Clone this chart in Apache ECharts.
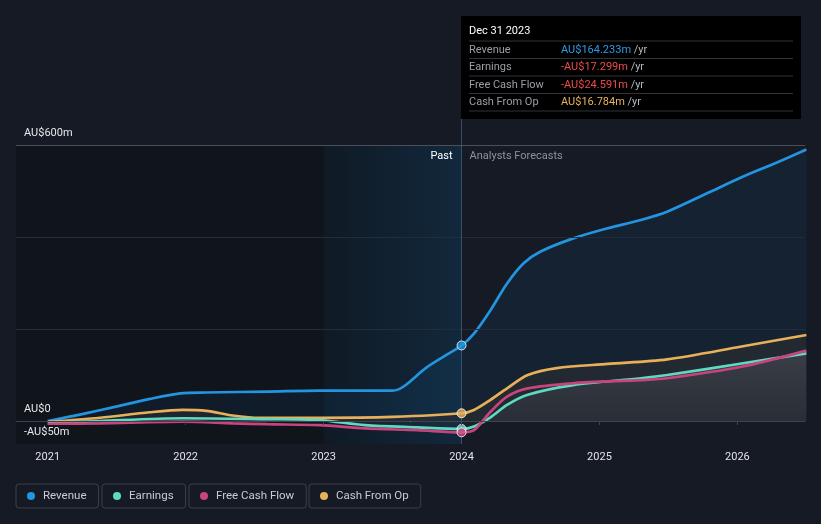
<!DOCTYPE html>
<html>
<head>
<meta charset="utf-8">
<script src="https://cdn.jsdelivr.net/npm/echarts@6/dist/echarts.min.js"></script>
<style>
html,body{margin:0;padding:0;background:#151a24;}
#chart{width:821px;height:524px;}
</style>
</head>
<body>
<div id="chart"></div>
<script>
// ---- data (AU$ millions, x = decimal year) ----
const yearTicks = [2021, 2022, 2023, 2024, 2025, 2026];
const yLabelValues = [-50, 0, 600];
const gridValues = [200, 400, 600];
const seriesNames = ['Revenue', 'Earnings', 'Free Cash Flow', 'Cash From Op'];
const revenue = [[2021.0,0],[2021.25,15],[2021.52,33],[2021.74,48],[2021.96,60],[2022.15,62],[2022.6,64],[2022.97,66],[2023.5,66],[2023.58,75],[2023.74,115],[2023.87,140],[2024.0,164.233],[2024.09,190],[2024.21,241],[2024.33,299],[2024.45,343],[2024.57,368],[2024.81,397],[2025.06,419],[2025.3,437],[2025.49,455],[2025.78,495],[2026.03,530],[2026.27,560],[2026.5,590]];
const earnings = [[2021.0,-5],[2021.38,0],[2021.98,6],[2022.59,4],[2022.97,2],[2023.3,-9],[2023.68,-14],[2024.0,-17.299],[2024.09,-12],[2024.21,8],[2024.33,35],[2024.48,57],[2024.81,78],[2025.3,93],[2025.49,100],[2026.03,125],[2026.5,147]];
const fcf = [[2021.0,-6],[2021.38,-5],[2021.98,-1.5],[2022.34,-5],[2022.59,-7],[2022.97,-9],[2023.3,-16],[2023.68,-20],[2024.0,-24.591],[2024.09,-20],[2024.21,20],[2024.33,53],[2024.48,71],[2024.81,82],[2025.3,89],[2025.49,93],[2026.03,118],[2026.5,153]];
const cfo = [[2021.0,-2],[2021.38,7],[2021.74,19],[2021.98,24],[2022.15,22],[2022.34,12],[2022.54,7],[2022.97,7],[2023.5,9],[2024.0,16.784],[2024.09,24],[2024.21,46],[2024.33,71],[2024.48,100],[2024.69,115],[2025.06,124],[2025.49,134],[2026.03,162],[2026.5,187]];
const markerYear = 2024.0;
const tooltipTitle = 'Dec 31 2023';
const tooltipValues = ['AU$164.233m', '-AU$17.299m', '-AU$24.591m', 'AU$16.784m'];

const colors = ['#2394df', '#5fd9c0', '#c8447e', '#e8b05a'];
const valueColors = ['#2f9ae6', '#ec4b4b', '#ec4b4b', '#e8b25c'];
const X_MIN = 2020.77, X_MAX = 2026.49;

const chart = echarts.init(document.getElementById('chart'));
const font = 'Roboto, "Noto Sans", sans-serif';

function at(arr, x) { const p = arr.find(d => d[0] === x); return p ? p[1] : null; }
const SM = 0.3;
const LW = 2.7;

const option = {
  backgroundColor: '#151a24',
  animation: false,
  textStyle: { fontFamily: font },
  grid: { left: 16, right: 16, top: 145, bottom: 80, containLabel: false, outerBoundsMode: 'none' },
  xAxis: {
    type: 'value', min: X_MIN, max: X_MAX, z: 20,
    splitLine: { show: false },
    axisLine: { show: true, lineStyle: { color: '#3e444e', width: 1 } },
    axisTick: { show: true, customValues: yearTicks, length: 4, lineStyle: { color: '#3e444e' } },
    axisLabel: { customValues: yearTicks, color: '#e2e4e8', fontSize: 11, margin: 8, formatter: v => String(Math.round(v)) }
  },
  yAxis: {
    type: 'value', min: -50, max: 600, z: 20,
    splitLine: { show: false }, axisLine: { show: false }, axisTick: { show: false },
    axisLabel: {
      customValues: yLabelValues, inside: true, margin: 8, color: '#e6e8ec', fontSize: 11,
      verticalAlign: 'bottom', padding: [0, 0, 6, 0], showMinLabel: true, showMaxLabel: true, hideOverlap: false,
      formatter: v => v < 0 ? '-AU$' + (-v) + 'm' : (v === 0 ? 'AU$0' : 'AU$' + v + 'm')
    }
  },
  legend: seriesNames.map((n, i) => ({
    data: [n], left: [16, 102, 189, 309][i], top: 484, icon: 'circle', itemWidth: 8, itemHeight: 8,
    padding: [6, 12, 6, 11], borderColor: '#3a3f49', borderWidth: 1, borderRadius: 3,
    selectedMode: false, textStyle: { color: '#c9ccd1', fontSize: 11.5, padding: [0, 0, 0, 3] }
  })),
  series: [
    { type: 'line', name: '_shade', z: 1, data: [], silent: true,
      markArea: { silent: true, data: [
        [{ xAxis: X_MIN, itemStyle: { color: '#10141b' } }, { xAxis: 2023 }],
        [{ xAxis: 2023, itemStyle: { color: new echarts.graphic.LinearGradient(0, 0, 1, 0, [
          { offset: 0, color: '#0f1a25' }, { offset: 1, color: '#12283c' }]) } }, { xAxis: markerYear }]
      ] } },
    { type: 'line', name: '_grid', z: 2, data: [], silent: true,
      markLine: { silent: true, symbol: 'none', label: { show: false },
        data: gridValues.map(v => ({ yAxis: v, lineStyle: { color: v === 600 ? '#4a505a' : '#252c37', width: 1, type: 'solid' } }))
          .concat([{ xAxis: markerYear, lineStyle: { color: 'rgba(80,120,160,0.55)', width: 1, type: 'solid' } }]) } },
    { type: 'line', name: 'Revenue', z: 3, data: revenue, smooth: SM, symbol: 'none',
      lineStyle: { color: colors[0], width: LW }, itemStyle: { color: colors[0] },
      areaStyle: { color: 'rgba(35,148,223,0.10)' } },
    { type: 'line', name: 'Cash From Op', z: 4, data: cfo, smooth: SM, symbol: 'none',
      lineStyle: { color: colors[3], width: LW }, itemStyle: { color: colors[3] },
      areaStyle: { color: 'rgba(48,48,50,0.75)' } },
    { type: 'line', name: 'Earnings', z: 5, data: earnings, smooth: SM, symbol: 'none',
      lineStyle: { color: colors[1], width: LW }, itemStyle: { color: colors[1] },
      areaStyle: { color: new echarts.graphic.LinearGradient(0, 0, 0, 1, [
        { offset: 0, color: 'rgba(130,130,142,0.32)' }, { offset: 1, color: 'rgba(130,130,142,0.06)' }]) } },
    { type: 'line', name: 'Free Cash Flow', z: 6, data: fcf, smooth: SM, symbol: 'none',
      lineStyle: { color: colors[2], width: LW }, itemStyle: { color: colors[2] } },
    { type: 'line', name: '_zero', z: 7, data: [], silent: true,
      markLine: { silent: true, symbol: 'none', label: { show: false },
        data: [{ yAxis: 0, lineStyle: { color: '#ffffff', width: 1.2, type: 'solid' } }] } },
    { type: 'scatter', name: '_dots', z: 10, silent: true, symbolSize: 9,
      data: [revenue, cfo, earnings, fcf].map((arr, i) => ({
        value: [markerYear, at(arr, markerYear)],
        itemStyle: { color: [colors[0], colors[3], colors[1], colors[2]][i], borderColor: '#ffffff', borderWidth: 1 }
      })) }
  ]
};
chart.setOption(option);

const xm = chart.convertToPixel({ xAxisIndex: 0 }, markerYear);
const topY = chart.convertToPixel({ yAxisIndex: 0 }, 600);
const boxX = 461, boxY = 16, boxW = 340, boxH = 103;
const g = [
  { type: 'line', z: 50, shape: { x1: xm, y1: boxY + boxH, x2: xm, y2: topY }, style: { stroke: 'rgba(80,120,160,0.55)', lineWidth: 1 } },
  { type: 'text', z: 50, x: xm - 9, y: topY + 11, style: { text: 'Past', fill: '#ffffff', font: '11px ' + font, align: 'right', verticalAlign: 'middle' } },
  { type: 'text', z: 50, x: xm + 8, y: topY + 11, style: { text: 'Analysts Forecasts', fill: '#8d929b', font: '11px ' + font, align: 'left', verticalAlign: 'middle' } },
  { type: 'rect', z: 60, shape: { x: boxX, y: boxY, width: boxW, height: boxH }, style: { fill: '#000000' } },
  { type: 'text', z: 61, x: boxX + 8, y: boxY + 15, style: { text: tooltipTitle, fill: '#ffffff', font: '11px ' + font, verticalAlign: 'middle' } }
];
const sepY = [41, 58.5, 76, 93.5, 111];
sepY.forEach(y => g.push({ type: 'line', z: 61, shape: { x1: boxX + 8, y1: y, x2: boxX + 332, y2: y }, style: { stroke: '#303238', lineWidth: 1 } }));
seriesNames.forEach((n, i) => {
  const cy = (sepY[i] + sepY[i + 1]) / 2;
  g.push({ type: 'text', z: 61, x: boxX + 8, y: cy, style: { text: n, fill: '#9a9ea6', font: '11px ' + font, verticalAlign: 'middle' } });
  g.push({ type: 'text', z: 61, x: boxX + 100, y: cy, style: {
    text: '{v|' + tooltipValues[i] + '} {u|/yr}', verticalAlign: 'middle', font: '11px ' + font,
    rich: { v: { fill: valueColors[i], font: '11px ' + font }, u: { fill: '#b4b8c0', font: '11px ' + font } } } });
});
chart.setOption({ graphic: g });
</script>
</body>
</html>
